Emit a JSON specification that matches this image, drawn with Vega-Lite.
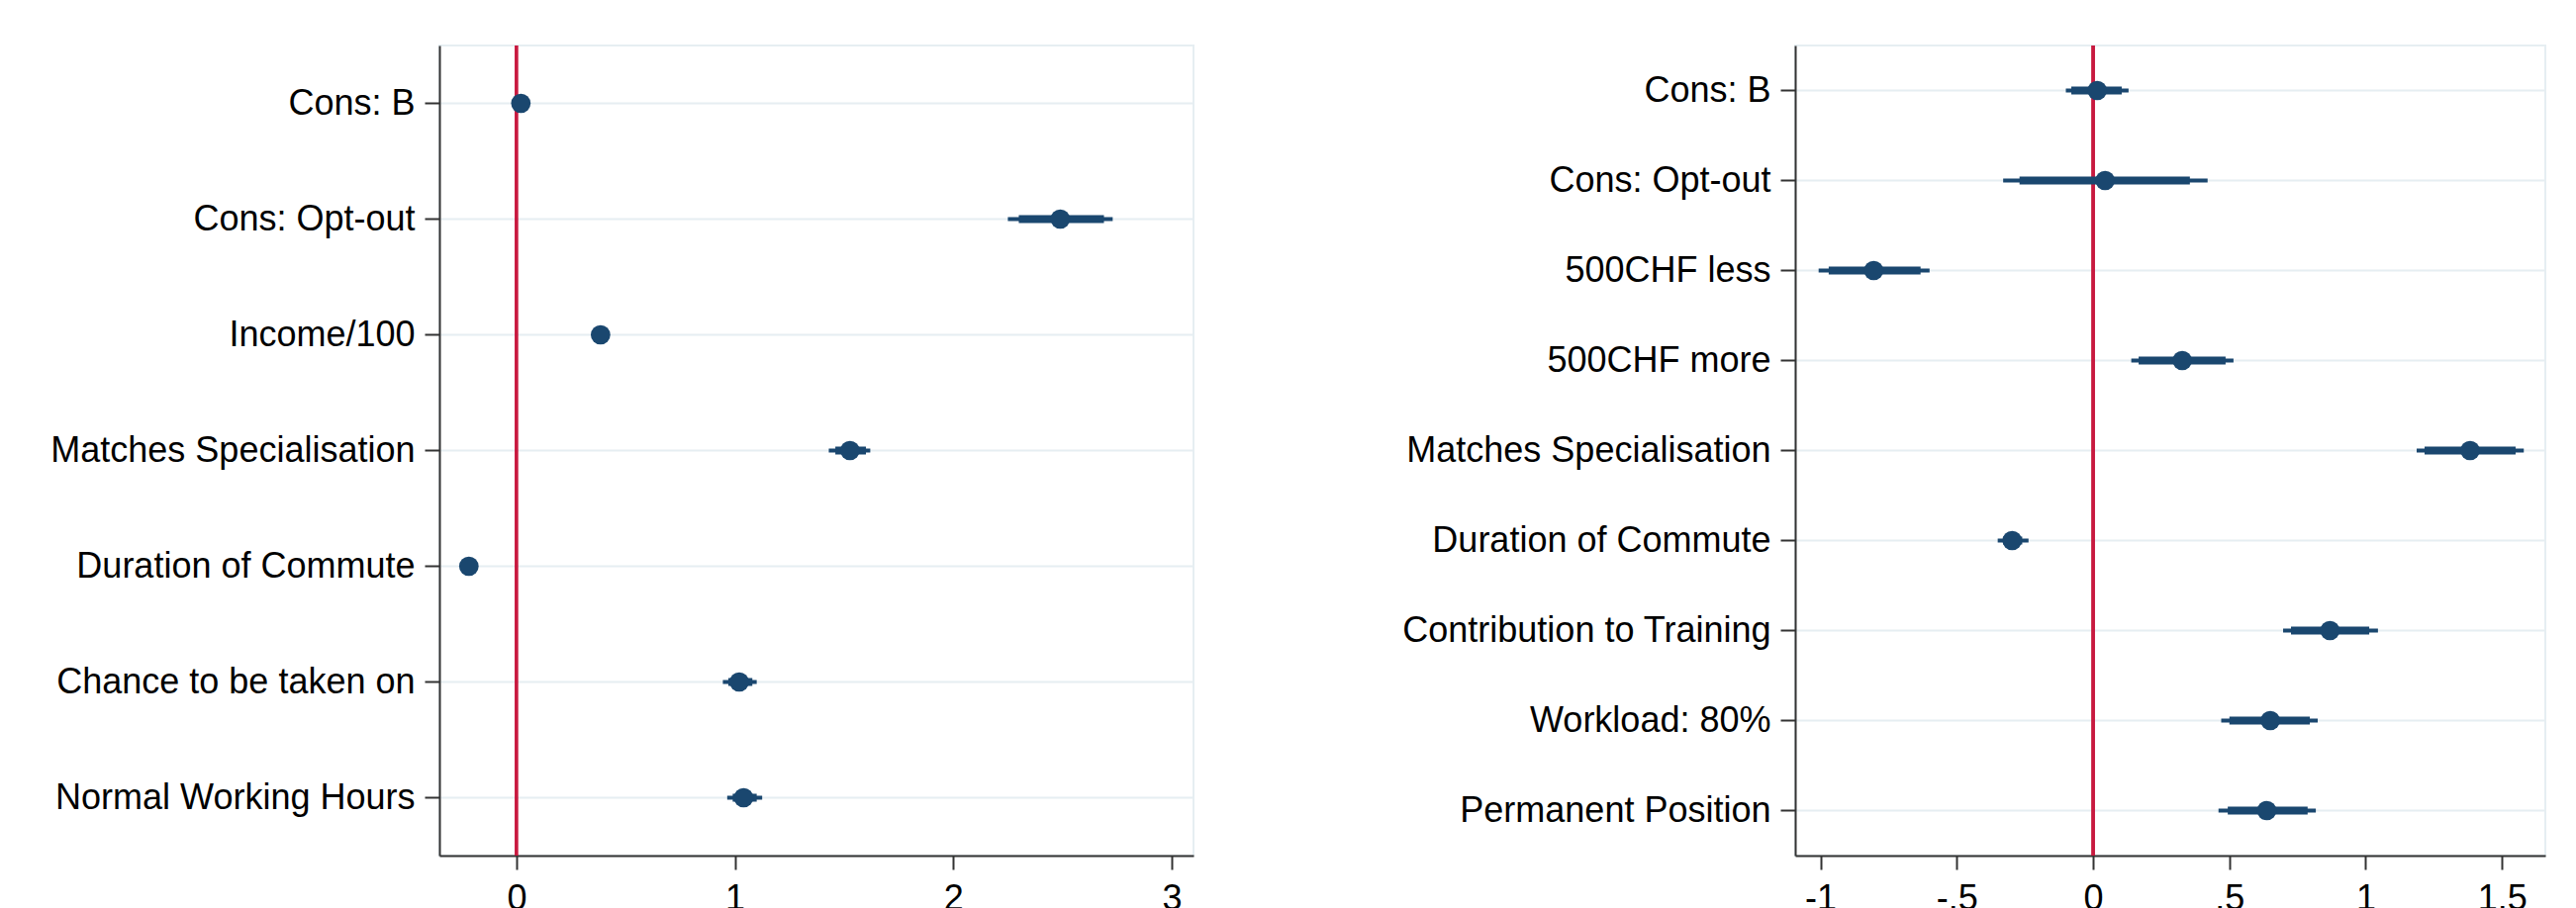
{
  "$schema": "https://vega.github.io/schema/vega-lite/v6.json",
  "background": "white",
  "padding": {"left": 0, "top": 43, "right": 34, "bottom": 0},
  "spacing": 0,
  "config": {
    "font": "Liberation Sans",
    "view": {"stroke": "#e6eef2", "strokeWidth": 2},
    "axis": {
      "labelFont": "Liberation Sans",
      "labelFontSize": 36,
      "labelLimit": 0,
      "labelColor": "#000000",
      "domainColor": "#333333",
      "domainWidth": 2,
      "tickColor": "#333333",
      "tickWidth": 2,
      "title": null
    }
  },
  "datasets": {
    "left": [
      {"term": "Cons: B", "est": 0.02, "lo95": -0.01, "hi95": 0.05, "lo90": -0.005, "hi90": 0.045},
      {"term": "Cons: Opt-out", "est": 2.49, "lo95": 2.25, "hi95": 2.73, "lo90": 2.30, "hi90": 2.69},
      {"term": "Income/100", "est": 0.385, "lo95": 0.36, "hi95": 0.41, "lo90": 0.365, "hi90": 0.405},
      {"term": "Matches Specialisation", "est": 1.527, "lo95": 1.43, "hi95": 1.62, "lo90": 1.46, "hi90": 1.60},
      {"term": "Duration of Commute", "est": -0.218, "lo95": -0.24, "hi95": -0.195, "lo90": -0.235, "hi90": -0.20},
      {"term": "Chance to be taken on", "est": 1.02, "lo95": 0.945, "hi95": 1.10, "lo90": 0.97, "hi90": 1.08},
      {"term": "Normal Working Hours", "est": 1.04, "lo95": 0.965, "hi95": 1.125, "lo90": 0.99, "hi90": 1.10}
    ],
    "right": [
      {"term": "Cons: B", "est": 0.015, "lo95": -0.10, "hi95": 0.13, "lo90": -0.08, "hi90": 0.105},
      {"term": "Cons: Opt-out", "est": 0.044, "lo95": -0.33, "hi95": 0.42, "lo90": -0.27, "hi90": 0.355},
      {"term": "500CHF less", "est": -0.805, "lo95": -1.007, "hi95": -0.60, "lo90": -0.97, "hi90": -0.633},
      {"term": "500CHF more", "est": 0.327, "lo95": 0.14, "hi95": 0.515, "lo90": 0.167, "hi90": 0.486},
      {"term": "Matches Specialisation", "est": 1.383, "lo95": 1.187, "hi95": 1.58, "lo90": 1.216, "hi90": 1.55},
      {"term": "Duration of Commute", "est": -0.297, "lo95": -0.35, "hi95": -0.237, "lo90": -0.33, "hi90": -0.26},
      {"term": "Contribution to Training", "est": 0.869, "lo95": 0.697, "hi95": 1.045, "lo90": 0.726, "hi90": 1.013},
      {"term": "Workload: 80%", "est": 0.65, "lo95": 0.47, "hi95": 0.824, "lo90": 0.50, "hi90": 0.795},
      {"term": "Permanent Position", "est": 0.637, "lo95": 0.46, "hi95": 0.817, "lo90": 0.494, "hi90": 0.787}
    ]
  },
  "hconcat": [
    {
      "width": 762,
      "height": 819,
      "data": {"name": "left"},
      "encoding": {
        "y": {
          "field": "term", "type": "nominal", "sort": null,
          "axis": {
            "grid": true, "gridColor": "#e6eef2", "gridWidth": 2,
            "tickSize": 15, "labelPadding": 10,
            "minExtent": 443, "maxExtent": 443
          }
        }
      },
      "layer": [
        {
          "mark": {"type": "rule", "color": "#c8193f", "strokeWidth": 2.5},
          "encoding": {"x": {"datum": 0, "type": "quantitative"}, "y": null}
        },
        {
          "mark": {"type": "rule", "color": "#1a476f", "strokeWidth": 4},
          "encoding": {
            "x": {
              "field": "lo95", "type": "quantitative",
              "scale": {"domain": [-0.353, 3.10], "nice": false, "zero": false},
              "axis": {
                "values": [0, 1, 2, 3], "grid": false,
                "tickSize": 14, "labelPadding": 12,
                "labelExpr": "(datum.value < 0 ? '-' : '') + replace(toString(abs(datum.value)), '0.', '.')"
              }
            },
            "x2": {"field": "hi95"}
          }
        },
        {
          "mark": {"type": "rule", "color": "#1a476f", "strokeWidth": 8},
          "encoding": {
            "x": {"field": "lo90", "type": "quantitative"},
            "x2": {"field": "hi90"}
          }
        },
        {
          "mark": {"type": "circle", "color": "#1a476f", "opacity": 1, "size": 390},
          "encoding": {"x": {"field": "est", "type": "quantitative"}}
        }
      ]
    },
    {
      "width": 758,
      "height": 819,
      "data": {"name": "right"},
      "encoding": {
        "y": {
          "field": "term", "type": "nominal", "sort": null,
          "axis": {
            "grid": true, "gridColor": "#e6eef2", "gridWidth": 2,
            "tickSize": 15, "labelPadding": 10,
            "minExtent": 606, "maxExtent": 606
          }
        }
      },
      "layer": [
        {
          "mark": {"type": "rule", "color": "#c8193f", "strokeWidth": 2.5},
          "encoding": {"x": {"datum": 0, "type": "quantitative"}, "y": null}
        },
        {
          "mark": {"type": "rule", "color": "#1a476f", "strokeWidth": 4},
          "encoding": {
            "x": {
              "field": "lo95", "type": "quantitative",
              "scale": {"domain": [-1.093, 1.659], "nice": false, "zero": false},
              "axis": {
                "values": [-1, -0.5, 0, 0.5, 1, 1.5], "grid": false,
                "tickSize": 14, "labelPadding": 12,
                "labelExpr": "(datum.value < 0 ? '-' : '') + replace(toString(abs(datum.value)), '0.', '.')"
              }
            },
            "x2": {"field": "hi95"}
          }
        },
        {
          "mark": {"type": "rule", "color": "#1a476f", "strokeWidth": 8},
          "encoding": {
            "x": {"field": "lo90", "type": "quantitative"},
            "x2": {"field": "hi90"}
          }
        },
        {
          "mark": {"type": "circle", "color": "#1a476f", "opacity": 1, "size": 390},
          "encoding": {"x": {"field": "est", "type": "quantitative"}}
        }
      ]
    }
  ]
}
